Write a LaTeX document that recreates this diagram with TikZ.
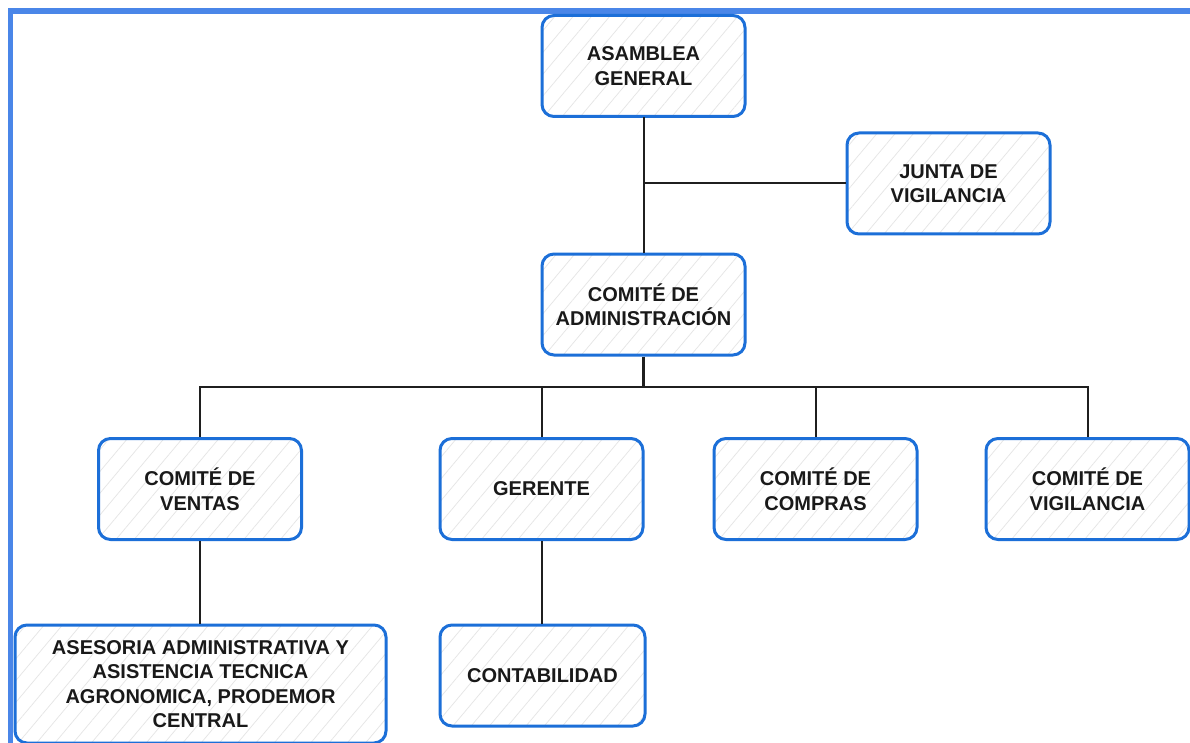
\documentclass[tikz,border=0pt]{standalone}
\usepackage{fontspec}
\setmainfont{Liberation Sans}
\usetikzlibrary{patterns.meta}
\definecolor{frameblue}{HTML}{4A86E8}
\definecolor{boxblue}{HTML}{1C6FD8}
\begin{document}
\begin{tikzpicture}[x=1pt,y=-1pt,
  orgbox/.style={draw=boxblue, line width=3pt, rounded corners=12pt,
    minimum width=203pt, minimum height=101pt, align=center,
    font=\fontsize{20}{24.5}\selectfont\bfseries, text=black!90,
    pattern={Lines[angle=50,distance=14pt,line width=0.7pt]}, pattern color=black!10,
    inner sep=4pt},
  link/.style={line width=2pt, black!88}]
\useasboundingbox (0,0) rectangle (1190,743);
\fill[white] (0,0) rectangle (1190,743);
\draw[frameblue, line width=5.5pt] (10.5,760) -- (10.5,11) -- (1200,11);

\node[orgbox] (ag) at (643.5,66) {ASAMBLEA\\GENERAL};
\node[orgbox] (jv) at (948.5,183.5) {JUNTA DE\\VIGILANCIA};
\node[orgbox] (ca) at (643.5,304.5) {COMITÉ DE\\ADMINISTRACIÓN};
\node[orgbox] (cv) at (200,489) {COMITÉ DE\\VENTAS};
\node[orgbox] (ge) at (541.5,489) {GERENTE};
\node[orgbox] (cc) at (815.5,489) {COMITÉ DE\\COMPRAS};
\node[orgbox] (cvg) at (1087.5,489) {COMITÉ DE\\VIGILANCIA};
\node[orgbox, minimum width=371pt, minimum height=118pt] (as) at (200.5,684) {ASESORIA ADMINISTRATIVA Y\\ASISTENCIA TECNICA\\AGRONOMICA, PRODEMOR\\CENTRAL};
\node[orgbox, minimum width=205pt] (co) at (542.5,675.5) {CONTABILIDAD};

\coordinate (bus) at (643.5,387);
\draw[link] (ag.south) -- (ca.north);
\draw[link] (ag.south |- jv.west) -- (jv.west);
\draw[link, line width=3pt] (ca.south) -- (bus);
\draw[link] (cv.north) -- (cv.north |- bus) -- (cvg.north |- bus) -- (cvg.north);
\draw[link] (ge.north) -- (ge.north |- bus);
\draw[link] (cc.north) -- (cc.north |- bus);
\draw[link] (cv.south) -- (cv.south |- as.north);
\draw[link] (ge.south) -- (ge.south |- co.north);
\end{tikzpicture}
\end{document}
